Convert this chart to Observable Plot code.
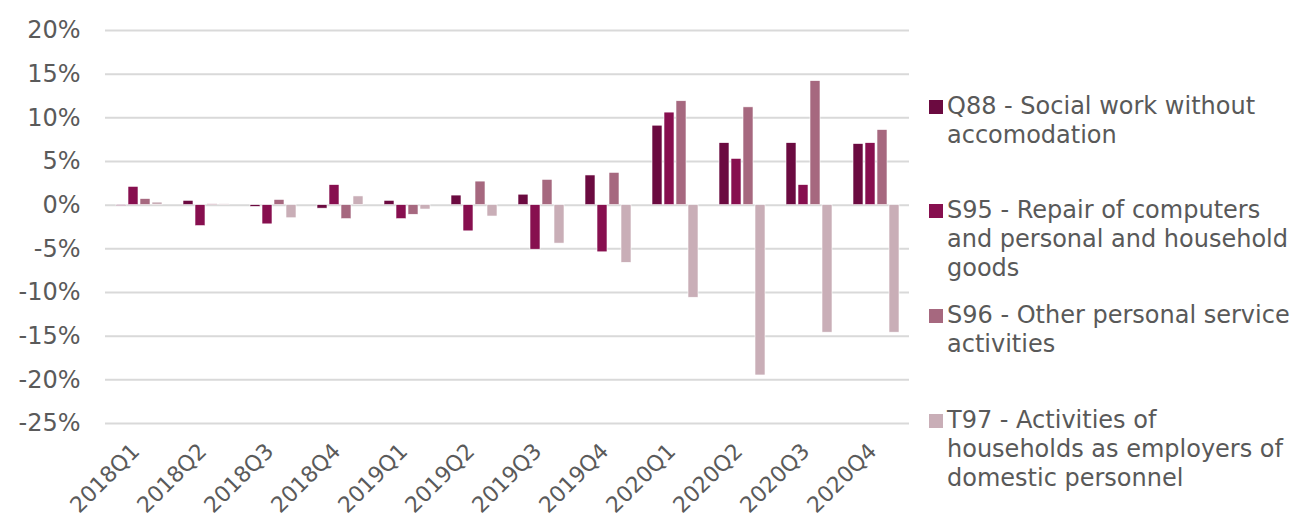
<!DOCTYPE html>
<html>
<head>
<meta charset="utf-8">
<script src="https://cdn.jsdelivr.net/npm/d3@7"></script>
<script src="https://cdn.jsdelivr.net/npm/@observablehq/plot@0.6"></script>
<style>
  html, body { margin: 0; padding: 0; background: #fff; }
  #wrap { position: relative; width: 1295px; height: 522px; overflow: hidden; font-family: "DejaVu Sans", Verdana, sans-serif; color: #595959; }
  #chart { position: absolute; left: 0; top: 0; }
  .leg { position: absolute; left: 928px; font-size: 24px; line-height: 29px; white-space: nowrap; }
  .leg .sw { position: absolute; left: 1px; top: 8px; width: 14px; height: 14px; }
  .leg .tx { position: absolute; left: 19px; top: 0; }
</style>
</head>
<body>
<div id="wrap"><div id="chart"></div></div>
<script>
const quarters = ["2018Q1","2018Q2","2018Q3","2018Q4","2019Q1","2019Q2","2019Q3","2019Q4","2020Q1","2020Q2","2020Q3","2020Q4"];
const seriesNames = [
  "Q88 - Social work without accomodation",
  "S95 - Repair of computers and personal and household goods",
  "S96 - Other personal service activities",
  "T97 - Activities of households as employers of domestic personnel"
];
const legendLines = [
  ["Q88 - Social work without", "accomodation"],
  ["S95 - Repair of computers", "and personal and household", "goods"],
  ["S96 - Other personal service", "activities"],
  ["T97 - Activities of", "households as employers of", "domestic personnel"]
];
const seriesColors = ["#6b0a40", "#870f4f", "#a6687f", "#c9aeb7"];
const q88 = [-0.1, 0.5, -0.2, -0.4, 0.5, 1.1, 1.2, 3.4, 9.1, 7.1, 7.1, 7.0];
const s95 = [2.1, -2.4, -2.2, 2.3, -1.6, -3.0, -5.1, -5.4, 10.6, 5.3, 2.3, 7.1];
const s96 = [0.7, 0.1, 0.6, -1.6, -1.1, 2.7, 2.9, 3.7, 11.9, 11.2, 14.2, 8.6];
const t97 = [0.3, 0.1, -1.5, 1.0, -0.5, -1.3, -4.4, -6.6, -10.6, -19.5, -14.6, -14.6];
const yTicks = [-25, -20, -15, -10, -5, 0, 5, 10, 15, 20];

const allSeries = [q88, s95, s96, t97];
const data = [];
quarters.forEach((q, i) => {
  allSeries.forEach((s, j) => data.push({quarter: q, series: seriesNames[j], value: s[i]}));
});

const plot = Plot.plot({
  width: 1295,
  height: 522,
  marginLeft: 101,
  marginRight: 383,
  marginTop: 30,
  marginBottom: 99,
  style: {fontFamily: "DejaVu Sans, Verdana, sans-serif", fontSize: "24px", color: "#5a5a5a", background: "white"},
  fx: {domain: quarters, padding: 0, label: null},
  x: {domain: seriesNames, paddingInner: 0.19, paddingOuter: 0.82, axis: null},
  y: {domain: [-25, 20], label: null},
  color: {domain: seriesNames, range: seriesColors},
  marks: [
    Plot.ruleY(yTicks, {stroke: "#d9d9d9", strokeWidth: 2}),
    Plot.barY(data, {fx: "quarter", x: "series", y: "value", fill: "series", stroke: "white", strokeWidth: 0.6}),
    Plot.axisY({anchor: "left", ticks: yTicks, tickFormat: d => d + "%", tickSize: 0, tickPadding: 25, label: null, fontSize: 24}),
    Plot.axisFx({anchor: "bottom", tickRotate: -45, tickSize: 0, tickPadding: 24, dx: -3, label: null, fontSize: 22})
  ]
});
document.getElementById("chart").appendChild(plot);

const wrap = document.getElementById("wrap");
legendLines.forEach((lines, i) => {
  const d = document.createElement("div");
  d.className = "leg";
  d.style.top = (91.5 + i * 104.7) + "px";
  const sw = document.createElement("div");
  sw.className = "sw";
  sw.style.background = seriesColors[i];
  const tx = document.createElement("div");
  tx.className = "tx";
  tx.innerHTML = lines.join("<br>");
  d.appendChild(sw);
  d.appendChild(tx);
  wrap.appendChild(d);
});
</script>
</body>
</html>
